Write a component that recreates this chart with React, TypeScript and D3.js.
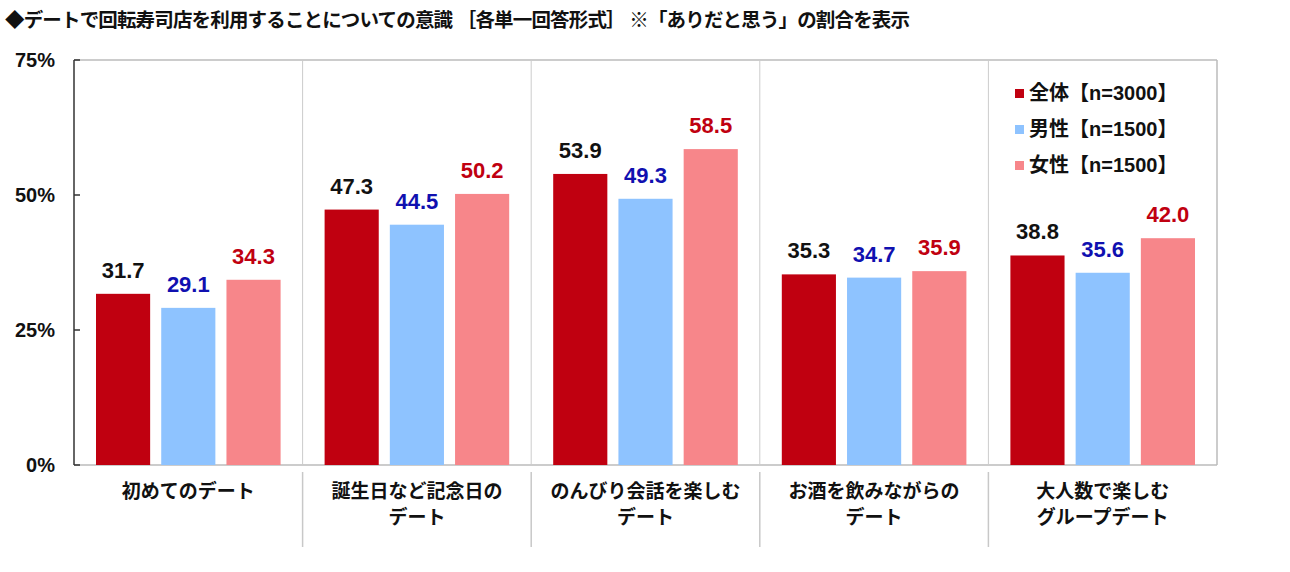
import React, { useEffect } from "react";
import * as d3 from "d3";

const title = "◆デートで回転寿司店を利用することについての意識 ［各単一回答形式］ ※「ありだと思う」の割合を表示";
const categories = [
  ["初めてのデート"],
  ["誕生日など記念日の", "デート"],
  ["のんびり会話を楽しむ", "デート"],
  ["お酒を飲みながらの", "デート"],
  ["大人数で楽しむ", "グループデート"],
];
const seriesNames = ["全体【n=3000】", "男性【n=1500】", "女性【n=1500】"];
const total = [31.7, 47.3, 53.9, 35.3, 38.8];
const male = [29.1, 44.5, 49.3, 34.7, 35.6];
const female = [34.3, 50.2, 58.5, 35.9, 42.0];
const yTicks = [0, 25, 50, 75];

const barColors = ["#C00010", "#8EC3FF", "#F7868A"];
const labelColors = ["#111111", "#1010B0", "#C00010"];

const W = 1290, H = 572;
const L = 74, R = 1217, T = 60, B = 465;
const FONT = "'Liberation Sans', Arial, 'Noto Sans CJK JP', sans-serif";

export default function App() {
  useEffect(() => {
    document.body.style.margin = "0";
  }, []);
  const series = [total, male, female];
  const x = d3.scaleBand<number>().domain(d3.range(categories.length)).range([L, R]).paddingInner(0).paddingOuter(0);
  const inner = d3.scaleBand<number>().domain([0, 1, 2]).range([22, x.bandwidth() - 22]).paddingInner(0.17).paddingOuter(0);
  const y = d3.scaleLinear().domain([0, 75]).range([B, T]);

  return (
    <svg width={W} height={H} style={{ display: "block", background: "#fff" }} fontFamily={FONT}>
      <text x={5} y={27} fontSize={19.5} fontWeight="bold" fill="#111" textLength={905} lengthAdjust="spacing">{title}</text>
      {/* plot border */}
      <line x1={L} x2={R} y1={T} y2={T} stroke="#BBBBBB" strokeWidth={1.5} />
      <line x1={R} x2={R} y1={T} y2={B} stroke="#BBBBBB" strokeWidth={1.5} />
      <line x1={L} x2={R} y1={B} y2={B} stroke="#BBBBBB" strokeWidth={1.5} />
      {/* separators */}
      {d3.range(1, categories.length).map((i) => (
        <g key={"sep" + i}>
          <line x1={x(i)!} x2={x(i)!} y1={T} y2={B} stroke="#CCCCCC" strokeWidth={1} />
          <line x1={x(i)!} x2={x(i)!} y1={472} y2={547} stroke="#C8C8C8" strokeWidth={1.5} />
        </g>
      ))}
      {/* bars */}
      {series.map((vals, s) =>
        vals.map((v, i) => {
          const bx = x(i)! + inner(s)!;
          return (
            <g key={`b${s}-${i}`}>
              <rect x={bx} y={y(v)} width={inner.bandwidth()} height={B - y(v)} fill={barColors[s]} />
              <text x={bx + inner.bandwidth() / 2} y={y(v) - 16} textAnchor="middle" fontSize={22} fontWeight="bold" fill={labelColors[s]}>
                {v.toFixed(1)}
              </text>
            </g>
          );
        })
      )}
      {/* y axis */}
      <line x1={L} x2={L} y1={T} y2={B} stroke="#333" strokeWidth={1.5} />
      {yTicks.map((t) => (
        <g key={"t" + t}>
          <line x1={L} x2={L + 6} y1={y(t)} y2={y(t)} stroke="#333" strokeWidth={1.5} />
          <text x={55} y={y(t) + 7} textAnchor="end" fontSize={20} fontWeight="bold" fill="#111">{t}%</text>
        </g>
      ))}
      {/* category labels */}
      {categories.map((lines, i) => (
        <text key={"c" + i} textAnchor="middle" fontSize={19} fontWeight="bold" fill="#111">
          {lines.map((ln, k) => (
            <tspan key={k} x={x(i)! + x.bandwidth() / 2} y={498 + k * 26}>{ln}</tspan>
          ))}
        </text>
      ))}
      {/* legend */}
      {seriesNames.map((n, s) => (
        <g key={"l" + s}>
          <rect x={1015} y={89 + s * 36} width={9} height={9} fill={barColors[s]} />
          <text x={1029} y={100 + s * 36} fontSize={20} fontWeight="bold" fill="#111">{n}</text>
        </g>
      ))}
    </svg>
  );
}
